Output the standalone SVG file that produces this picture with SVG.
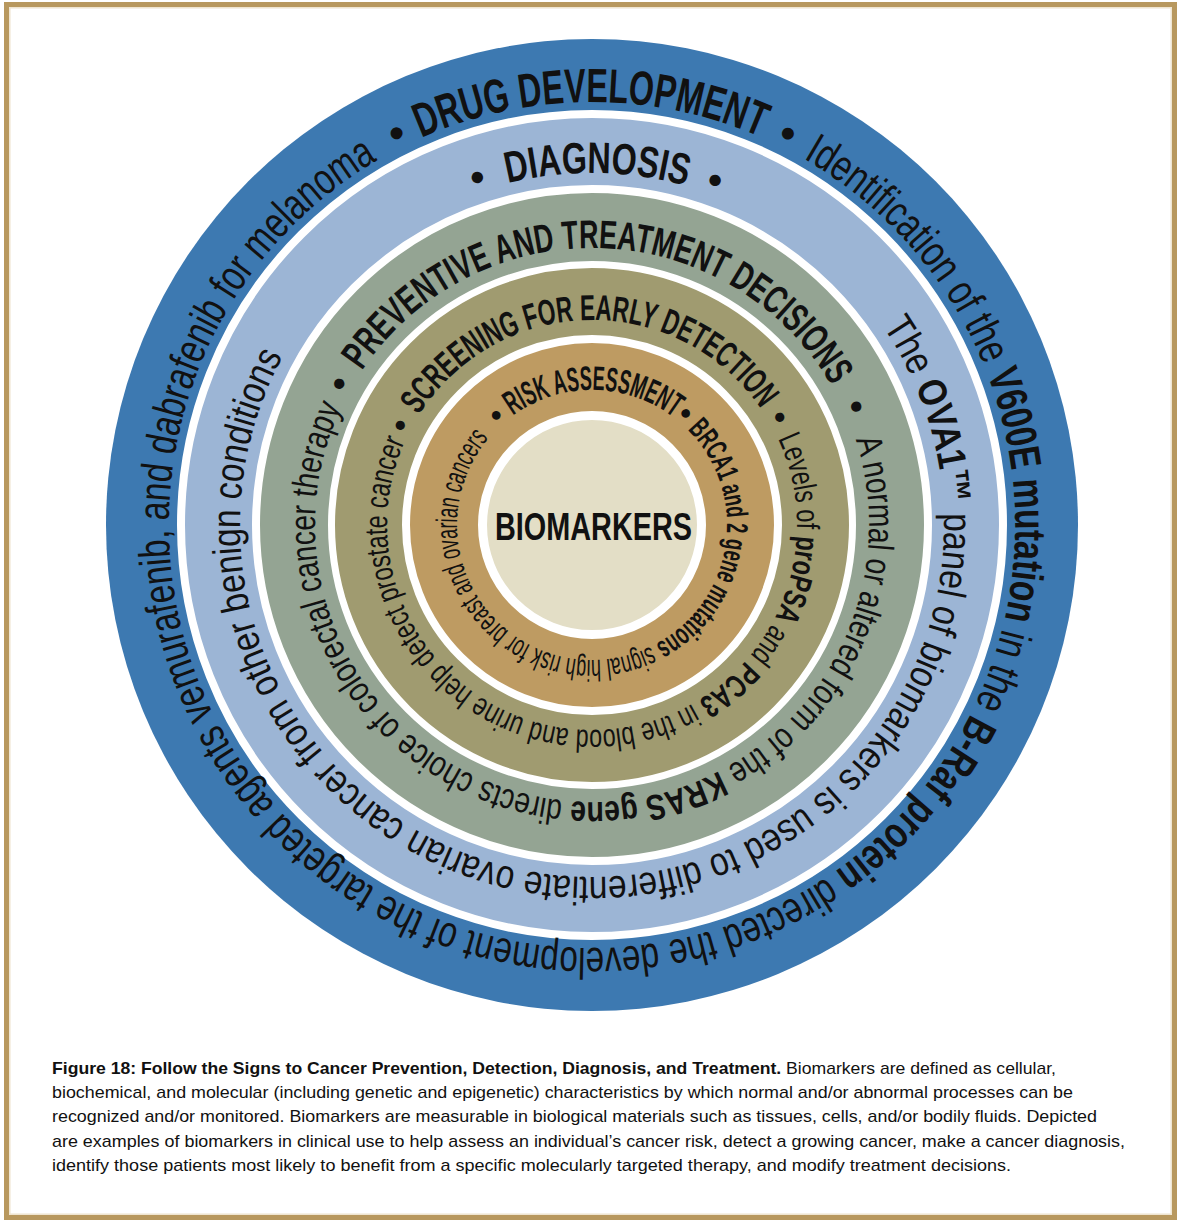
<svg xmlns="http://www.w3.org/2000/svg" xmlns:xlink="http://www.w3.org/1999/xlink" width="1177" height="1220" viewBox="0 0 1177 1220">
<style>
.t{font-family:"Liberation Sans",Arial,sans-serif;fill:#111;}
.b{font-weight:bold;}
.cap{font-family:"Liberation Sans",Arial,sans-serif;fill:#111;font-size:17px;}
</style>
<defs>
<path id="p1" d="M592,102 A423,423 0 1 1 592,948 A423,423 0 1 1 592,102 A423,423 0 1 1 592,948 A423,423 0 1 1 592,102"/>
<path id="p2" d="M592,173 A352,352 0 1 1 592,877 A352,352 0 1 1 592,173 A352,352 0 1 1 592,877 A352,352 0 1 1 592,173"/>
<path id="p3" d="M592,248 A277,277 0 1 1 592,802 A277,277 0 1 1 592,248 A277,277 0 1 1 592,802 A277,277 0 1 1 592,248"/>
<path id="p4" d="M592,320 A205,205 0 1 1 592,730 A205,205 0 1 1 592,320 A205,205 0 1 1 592,730 A205,205 0 1 1 592,320"/>
<path id="p5" d="M592,390 A135,135 0 1 1 592,660 A135,135 0 1 1 592,390 A135,135 0 1 1 592,660 A135,135 0 1 1 592,390"/>
</defs>
<rect x="0" y="0" width="1177" height="1220" fill="#fff"/>
<rect x="6.5" y="4.5" width="1168" height="1213" fill="none" stroke="#B8985E" stroke-width="5"/>
<rect x="9.8" y="7.8" width="1161.4" height="1206.4" fill="none" stroke="#EFE4CF" stroke-width="1.5"/>

<g id="ring-drug-development">
<circle cx="592" cy="525" r="486" fill="#3D79B1"/>
<circle cx="592" cy="525" r="411" fill="#9CB5D5" stroke="#fff" stroke-width="8"/>
</g>
<g id="ring-diagnosis">
<circle cx="592" cy="525" r="336" fill="#94A493" stroke="#fff" stroke-width="8"/>
</g>
<g id="ring-preventive">
<circle cx="592" cy="525" r="260.5" fill="#A09B70" stroke="#fff" stroke-width="7"/>
</g>
<g id="ring-screening">
<circle cx="592" cy="525" r="186" fill="#BE9B62" stroke="#fff" stroke-width="8"/>
</g>
<g id="ring-risk">
<circle cx="592" cy="525" r="109.5" fill="#E3DEC6" stroke="#fff" stroke-width="9"/>
</g>

<g id="text-ring1">
<text class="t" font-size="44"><textPath xlink:href="#p1" href="#p1" startOffset="2462" text-anchor="middle">•</textPath></text>
<text class="t b" font-size="48"><textPath xlink:href="#p1" href="#p1" startOffset="2482" textLength="349" lengthAdjust="spacingAndGlyphs">DRUG DEVELOPMENT</textPath></text>
<text class="t" font-size="44"><textPath xlink:href="#p1" href="#p1" startOffset="2854" text-anchor="middle">•</textPath></text>
<text class="t" font-size="44"><textPath xlink:href="#p1" href="#p1" startOffset="221" textLength="2212" lengthAdjust="spacingAndGlyphs">Identification of the <tspan class="b">V600E mutation</tspan> in the <tspan class="b">B-Raf protein</tspan> directed the development of the targeted agents vemurafenib, and dabrafenib for melanoma</textPath></text>
</g>

<g id="text-ring2">
<text class="t" font-size="42"><textPath xlink:href="#p2" href="#p2" startOffset="2098.6" text-anchor="middle">•</textPath></text>
<text class="t b" font-size="44"><textPath xlink:href="#p2" href="#p2" startOffset="2125.7" textLength="180.6" lengthAdjust="spacingAndGlyphs">DIAGNOSIS</textPath></text>
<text class="t" font-size="42"><textPath xlink:href="#p2" href="#p2" startOffset="2331.5" text-anchor="middle">•</textPath></text>
<text class="t" font-size="40"><textPath xlink:href="#p2" href="#p2" startOffset="342" textLength="1492" lengthAdjust="spacingAndGlyphs">The <tspan class="b">OVA1™</tspan> panel of biomarkers is used to differentiate ovarian cancer from other benign conditions</textPath></text>
</g>

<g id="text-ring3">
<text class="t" font-size="38"><textPath xlink:href="#p3" href="#p3" startOffset="1446" text-anchor="middle">•</textPath></text>
<text class="t b" font-size="40"><textPath xlink:href="#p3" href="#p3" startOffset="1468.3" textLength="560.8" lengthAdjust="spacingAndGlyphs">PREVENTIVE AND TREATMENT DECISIONS</textPath></text>
<text class="t" font-size="38"><textPath xlink:href="#p3" href="#p3" startOffset="2058.1" text-anchor="middle">•</textPath></text>
<text class="t" font-size="36"><textPath xlink:href="#p3" href="#p3" startOffset="348.1" textLength="1078.1" lengthAdjust="spacingAndGlyphs">A normal or altered form of the <tspan class="b">KRAS gene</tspan> directs choice of colorectal cancer therapy</textPath></text>
</g>

<g id="text-ring4">
<text class="t" font-size="34"><textPath xlink:href="#p4" href="#p4" startOffset="1064" text-anchor="middle">•</textPath></text>
<text class="t b" font-size="36"><textPath xlink:href="#p4" href="#p4" startOffset="1081.6" textLength="404.3" lengthAdjust="spacingAndGlyphs">SCREENING FOR EARLY DETECTION</textPath></text>
<text class="t" font-size="34"><textPath xlink:href="#p4" href="#p4" startOffset="1502.7" text-anchor="middle">•</textPath></text>
<text class="t" font-size="32"><textPath xlink:href="#p4" href="#p4" startOffset="232.6" textLength="819.3" lengthAdjust="spacingAndGlyphs">Levels of <tspan class="b">proPSA</tspan> and <tspan class="b">PCA3</tspan> in the blood and urine help detect prostate cancer</textPath></text>
</g>

<g id="text-ring5">
<text class="t" font-size="32"><textPath xlink:href="#p5" href="#p5" startOffset="751" text-anchor="middle">•</textPath></text>
<text class="t b" font-size="34"><textPath xlink:href="#p5" href="#p5" startOffset="763.4" textLength="172" lengthAdjust="spacingAndGlyphs">RISK ASSESSMENT</textPath></text>
<text class="t" font-size="32"><textPath xlink:href="#p5" href="#p5" startOffset="942" text-anchor="middle">•</textPath></text>
<text class="t" font-size="30"><textPath xlink:href="#p5" href="#p5" startOffset="106" textLength="624.4" lengthAdjust="spacingAndGlyphs"><tspan class="b">BRCA1 and 2 gene mutations</tspan> signal high risk for breast and ovarian cancers</textPath></text>
</g>

<g id="center-biomarkers">
<text class="t b" font-size="38" x="495" y="540" textLength="197" lengthAdjust="spacingAndGlyphs">BIOMARKERS</text>
</g>

<g id="caption">
<text class="cap" x="52" y="1074" textLength="1004" lengthAdjust="spacingAndGlyphs"><tspan font-weight="bold">Figure 18: Follow the Signs to Cancer Prevention, Detection, Diagnosis, and Treatment.</tspan> Biomarkers are defined as cellular,</text>
<text class="cap" x="52" y="1098" textLength="1021" lengthAdjust="spacingAndGlyphs">biochemical, and molecular (including genetic and epigenetic) characteristics by which normal and/or abnormal processes can be</text>
<text class="cap" x="52" y="1122" textLength="1045" lengthAdjust="spacingAndGlyphs">recognized and/or monitored. Biomarkers are measurable in biological materials such as tissues, cells, and/or bodily fluids. Depicted</text>
<text class="cap" x="52" y="1147" textLength="1073" lengthAdjust="spacingAndGlyphs">are examples of biomarkers in clinical use to help assess an individual’s cancer risk, detect a growing cancer, make a cancer diagnosis,</text>
<text class="cap" x="52" y="1171" textLength="959" lengthAdjust="spacingAndGlyphs">identify those patients most likely to benefit from a specific molecularly targeted therapy, and modify treatment decisions.</text>
</g>
</svg>
